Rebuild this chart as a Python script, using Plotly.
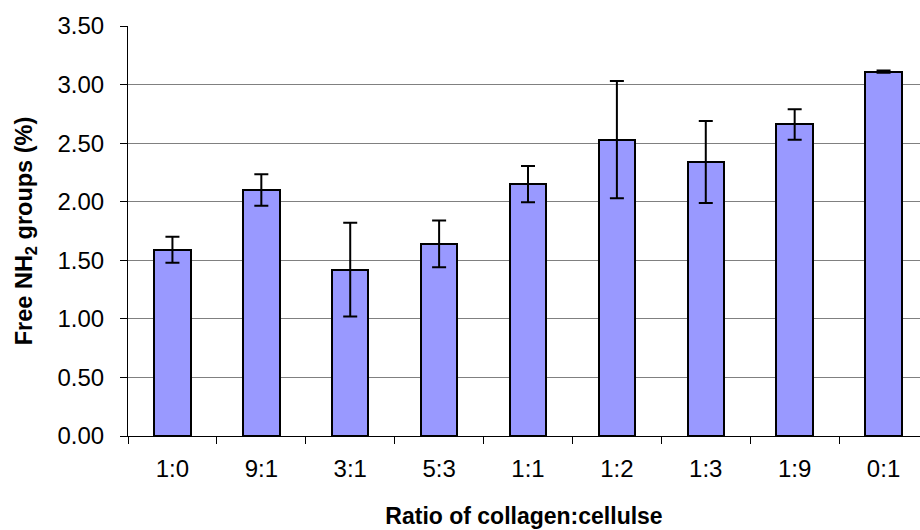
import plotly.graph_objects as go

categories = ["1:0", "9:1", "3:1", "5:3", "1:1", "1:2", "1:3", "1:9", "0:1"]
values = [1.59, 2.10, 1.42, 1.64, 2.15, 2.53, 2.34, 2.66, 3.11]
errors = [0.11, 0.135, 0.40, 0.20, 0.155, 0.50, 0.35, 0.13, 0.01]
y_ticks = [0, 0.5, 1.0, 1.5, 2.0, 2.5, 3.0, 3.5]

fig = go.Figure()
fig.add_trace(go.Bar(
    x=categories, y=values,
    width=0.41,
    marker=dict(color="#9999FF", line=dict(color="black", width=2)),
    error_y=dict(type="data", array=errors, visible=True, color="black", thickness=2, width=7),
))

fig.update_layout(
    width=920, height=530,
    margin=dict(l=128, r=0, t=26, b=94),
    paper_bgcolor="white", plot_bgcolor="white",
    font=dict(family="Liberation Sans, Arial", color="black"),
    showlegend=False,
    bargap=0,
)
fig.update_xaxes(
    type="category", range=[-0.5, 8.41],
    tickson="boundaries", ticks="outside", ticklen=7, tickcolor="black",
    showline=True, linecolor="black", linewidth=1,
    showgrid=False,
    tickfont=dict(size=24), ticklabelstandoff=11,
    title=dict(text="<b>Ratio of collagen:cellulse</b>", font=dict(size=23), standoff=27),
)
fig.update_yaxes(
    range=[0, 3.5], tickvals=y_ticks, tickformat=".2f",
    ticks="outside", ticklen=7, tickcolor="black",
    showline=True, linecolor="black", linewidth=1,
    showgrid=True, gridcolor="#808080", gridwidth=1,
    zeroline=False,
    tickfont=dict(size=24), ticklabelstandoff=11,
    title=dict(text="<b>Free NH<sub>2</sub> groups (%)</b>", font=dict(size=23.5), standoff=18),
)

fig.write_html("out.html", config={"displayModeBar": False},
               post_script="document.body.style.margin='0';")
